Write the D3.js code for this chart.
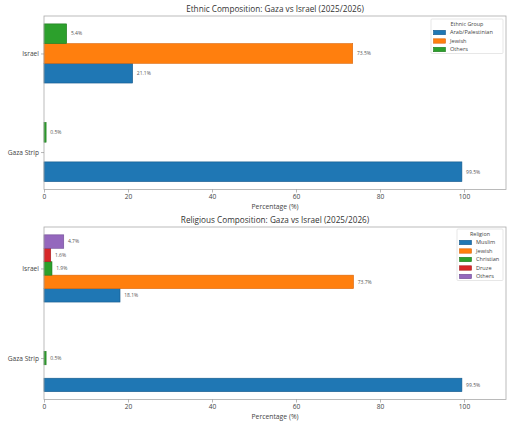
<!DOCTYPE html>
<html>
<head>
<meta charset="utf-8">
<script src="https://cdn.jsdelivr.net/npm/d3@7"></script>
<style>
  html, body { margin: 0; padding: 0; background: #fff; }
  text { font-family: "Open Sans", "DejaVu Sans", sans-serif; }
</style>
</head>
<body>
<svg id="chart" width="512" height="427"></svg>
<script>
// ---- data ----
const regions = ["Gaza Strip", "Israel"];

const ethnicGroups = ["Arab/Palestinian", "Jewish", "Others"];
const ethnicGaza   = [99.5, null, 0.5];
const ethnicIsrael = [21.1, 73.5, 5.4];

const religions      = ["Muslim", "Jewish", "Christian", "Druze", "Others"];
const religionGaza   = [99.5, null, 0.5, null, null];
const religionIsrael = [18.1, 73.7, 1.9, 1.6, 4.7];

const xTicks = [0, 20, 40, 60, 80, 100];
const colors = ["#1f77b4", "#ff7f0e", "#2ca02c", "#d62728", "#9467bd"];
const edgeColors = ["#16598a", "#d9650a", "#1f7a1f", "#a81d1e", "#6f4c94"];

const svg = d3.select("#chart");

function drawPanel(opts) {
  const { top, bottom, left, right, title, legendTitle, series, values, barH, legendBox } = opts;
  const g = svg.append("g");
  const n = series.length;
  const half = (n * barH) / 2;
  const ymin = -half - 0.05 * (1 + 2 * half);
  const ymax = 1 + half + 0.05 * (1 + 2 * half);
  const x = d3.scaleLinear().domain([0, 110]).range([left, right]);
  const y = d3.scaleLinear().domain([ymin, ymax]).range([bottom, top]);
  const bh = Math.abs(y(barH) - y(0));

  // bars
  regions.forEach((r, ri) => {
    values[ri].forEach((v, k) => {
      if (v == null) return;
      const c = ri + (k - (n - 1) / 2) * barH;
      g.append("rect")
        .attr("x", x(0))
        .attr("y", y(c) - bh / 2)
        .attr("width", x(v) - x(0))
        .attr("height", bh)
        .attr("fill", colors[k])
        .attr("stroke", edgeColors[k])
        .attr("stroke-width", 0.6);
      g.append("text")
        .attr("x", x(v + 1))
        .attr("y", y(c))
        .attr("dy", "0.35em")
        .attr("font-size", 5)
        .attr("fill", "#555")
        .text(v + "%");
    });
  });

  // frame
  g.append("rect")
    .attr("x", left).attr("y", top)
    .attr("width", right - left).attr("height", bottom - top)
    .attr("fill", "none").attr("stroke", "#aaa").attr("stroke-width", 0.8);

  // x axis
  const xa = g.append("g").attr("transform", `translate(0,${bottom})`)
    .call(d3.axisBottom(x).tickValues(xTicks).tickSize(3).tickPadding(2).tickFormat(d3.format("d")));
  xa.select(".domain").remove();
  xa.selectAll("line").attr("stroke", "#888").attr("stroke-width", 0.6);
  xa.selectAll("text").attr("font-size", 6.6).attr("fill", "#444").attr("font-family", null);

  // y axis
  const ya = g.append("g").attr("transform", `translate(${left},0)`)
    .call(d3.axisLeft(y).tickValues([0, 1]).tickSize(3).tickPadding(2).tickFormat((d) => regions[d]));
  ya.select(".domain").remove();
  ya.selectAll("line").attr("stroke", "#888").attr("stroke-width", 0.6);
  ya.selectAll("text").attr("font-size", 6.6).attr("fill", "#444").attr("font-family", null);

  // title
  g.append("text")
    .attr("x", (left + right) / 2).attr("y", top - 4)
    .attr("text-anchor", "middle").attr("font-size", 8.2).attr("fill", "#333")
    .text(title);

  // x label
  g.append("text")
    .attr("x", (left + right) / 2).attr("y", bottom + 19)
    .attr("text-anchor", "middle").attr("font-size", 6.8).attr("fill", "#444")
    .text("Percentage (%)");

  // legend
  const lg = g.append("g");
  lg.append("rect")
    .attr("x", legendBox.x).attr("y", legendBox.y)
    .attr("width", legendBox.w).attr("height", 9 + n * 8.5)
    .attr("fill", "#fff").attr("stroke", "#ddd").attr("stroke-width", 0.7).attr("rx", 1);
  lg.append("text")
    .attr("x", legendBox.x + legendBox.w / 2).attr("y", legendBox.y + 5.5)
    .attr("dy", "0.35em").attr("text-anchor", "middle")
    .attr("font-size", 5.4).attr("fill", "#444")
    .text(legendTitle);
  series.forEach((s, k) => {
    const cy = legendBox.y + 13.5 + k * 8.5;
    lg.append("rect")
      .attr("x", legendBox.x + 2.5).attr("y", cy - 2.2)
      .attr("width", 12).attr("height", 4.4)
      .attr("fill", colors[k]).attr("stroke", edgeColors[k]).attr("stroke-width", 0.6);
    lg.append("text")
      .attr("x", legendBox.x + 19).attr("y", cy)
      .attr("dy", "0.35em").attr("font-size", 5.6).attr("fill", "#444")
      .text(s);
  });
}

drawPanel({
  top: 16, bottom: 189.5, left: 44, right: 506,
  title: "Ethnic Composition: Gaza vs Israel (2025/2026)",
  legendTitle: "Ethnic Group",
  series: ethnicGroups,
  values: [ethnicGaza, ethnicIsrael],
  barH: 0.2,
  legendBox: { x: 431, y: 19, w: 72 }
});

drawPanel({
  top: 227, bottom: 399.5, left: 44, right: 506,
  title: "Religious Composition: Gaza vs Israel (2025/2026)",
  legendTitle: "Religion",
  series: religions,
  values: [religionGaza, religionIsrael],
  barH: 0.15,
  legendBox: { x: 457, y: 229, w: 46 }
});
</script>
</body>
</html>
